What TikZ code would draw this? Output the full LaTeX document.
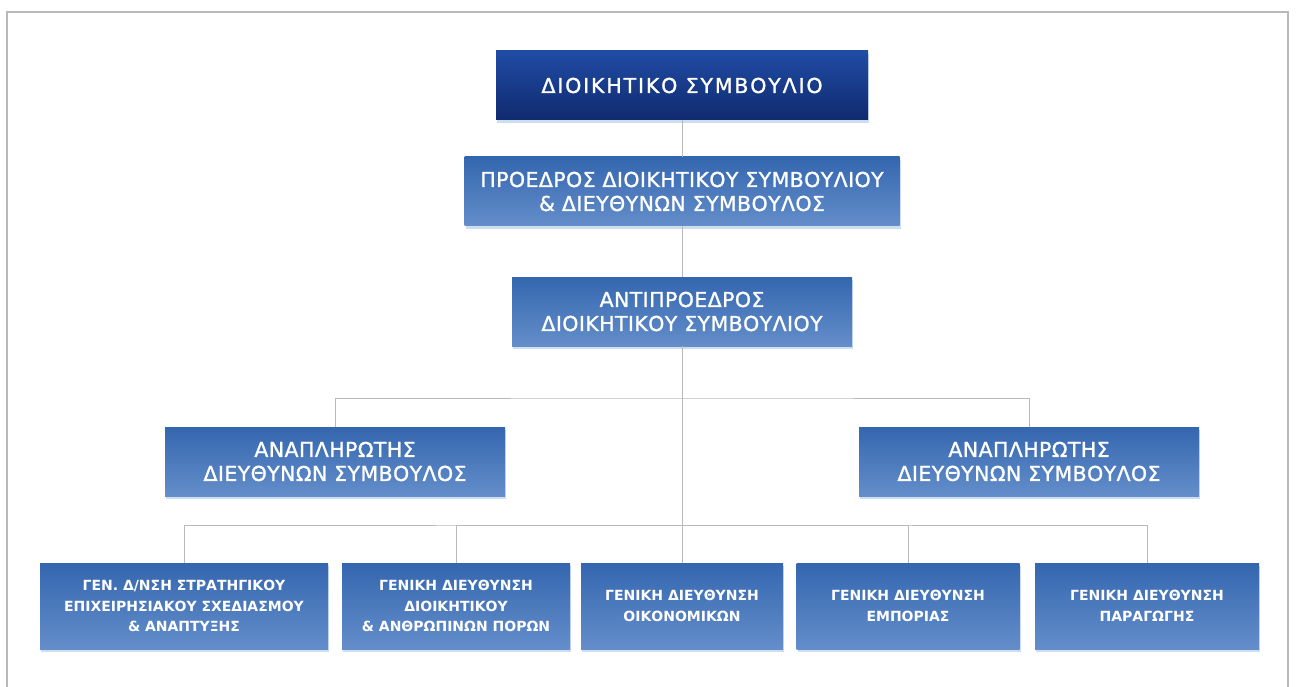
\documentclass[tikz,border=0pt]{standalone}
\usepackage{fontspec}
\setmainfont{DejaVu Sans}
\newfontfamily\unitfont[LetterSpace=2, FakeBold=1.2]{DejaVu Sans}
\newfontfamily\headfont[LetterSpace=9, FakeBold=1.2]{DejaVu Sans}
\usetikzlibrary{shadows}

\definecolor{navytop}{RGB}{32,76,165}
\definecolor{navybot}{RGB}{16,42,110}
\definecolor{boxtop}{RGB}{52,102,175}
\definecolor{boxbot}{RGB}{100,142,202}
\definecolor{glowc}{RGB}{200,218,240}

\begin{document}
\begin{tikzpicture}[x=1pt, y=-1pt,
    unit/.style = {rectangle, inner sep=0pt, align=center, text=white,
                   top color=boxtop, bottom color=boxbot,
                   drop shadow={shadow xshift=1pt, shadow yshift=-3pt, fill=glowc, opacity=.9},
                   font=\unitfont\fontsize{20.5}{24}\selectfont},
    head/.style = {unit, top color=navytop, bottom color=navybot, font=\headfont\fontsize{20.5}{24}\selectfont},
    dept/.style = {unit, minimum height=86pt, font=\bfseries\fontsize{14}{20.5}\selectfont},
    link/.style = {draw=gray!55, line width=.8pt}]
\useasboundingbox (0,0) rectangle (1296,687);
\draw[gray!55, line width=1.6pt] (7,687) -- (7,12) -- (1288,12) -- (1288,687);

\node[head, minimum width=372pt, minimum height=69pt] (b)  at (682,85.5)  {ΔΙΟΙΚΗΤΙΚΟ ΣΥΜΒΟΥΛΙΟ};
\node[unit, minimum width=435pt, minimum height=69pt] (p)  at (682,191.5) {ΠΡΟΕΔΡΟΣ ΔΙΟΙΚΗΤΙΚΟΥ ΣΥΜΒΟΥΛΙΟΥ\\ \& ΔΙΕΥΘΥΝΩΝ ΣΥΜΒΟΥΛΟΣ};
\node[unit, minimum width=340pt, minimum height=69pt] (v)  at (682,311.5) {ΑΝΤΙΠΡΟΕΔΡΟΣ\\ ΔΙΟΙΚΗΤΙΚΟΥ ΣΥΜΒΟΥΛΙΟΥ};
\node[unit, minimum width=340pt, minimum height=69pt] (al) at (335,461.5) {ΑΝΑΠΛΗΡΩΤΗΣ\\ ΔΙΕΥΘΥΝΩΝ ΣΥΜΒΟΥΛΟΣ};
\node[unit, minimum width=340pt, minimum height=69pt] (ar) at (1029,461.5) {ΑΝΑΠΛΗΡΩΤΗΣ\\ ΔΙΕΥΘΥΝΩΝ ΣΥΜΒΟΥΛΟΣ};

\node[dept, minimum width=288pt] (g1) at (184,606)    {ΓΕΝ. Δ/ΝΣΗ ΣΤΡΑΤΗΓΙΚΟΥ\\ ΕΠΙΧΕΙΡΗΣΙΑΚΟΥ ΣΧΕΔΙΑΣΜΟΥ\\ \& ΑΝΑΠΤΥΞΗΣ};
\node[dept, minimum width=228pt] (g2) at (456,606)    {ΓΕΝΙΚΗ ΔΙΕΥΘΥΝΣΗ\\ ΔΙΟΙΚΗΤΙΚΟΥ\\ \& ΑΝΘΡΩΠΙΝΩΝ ΠΟΡΩΝ};
\node[dept, minimum width=202pt] (g3) at (682,606)    {ΓΕΝΙΚΗ ΔΙΕΥΘΥΝΣΗ\\ ΟΙΚΟΝΟΜΙΚΩΝ};
\node[dept, minimum width=223pt] (g4) at (908,606)    {ΓΕΝΙΚΗ ΔΙΕΥΘΥΝΣΗ\\ ΕΜΠΟΡΙΑΣ};
\node[dept, minimum width=224pt] (g5) at (1147,606)   {ΓΕΝΙΚΗ ΔΙΕΥΘΥΝΣΗ\\ ΠΑΡΑΓΩΓΗΣ};

\coordinate (bu) at (682,398);
\coordinate (bl) at (682,525);

\draw[link] (b) -- (p);
\draw[link] (p) -- (v);
\draw[link] (v) -- (g3);
\draw[link] (al.north) |- (bu) -| (ar.north);
\draw[link] (g1.north) |- (bl) -| (g5.north);
\draw[link] (g2.north) |- (bl);
\draw[link] (g4.north) |- (bl);
\end{tikzpicture}
\end{document}
